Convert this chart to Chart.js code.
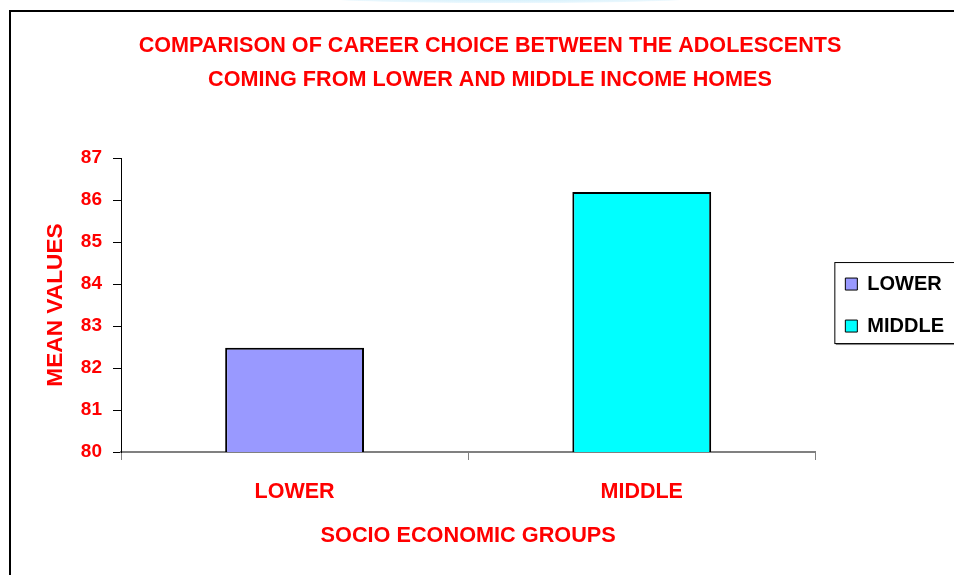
<!DOCTYPE html>
<html>
<head>
<meta charset="utf-8">
<script src="https://cdn.jsdelivr.net/npm/chart.js@4.4.1/dist/chart.umd.min.js"></script>
<style>
    html, body { margin: 0; padding: 0; background: #fff; overflow: hidden; }
    #marco { position: absolute; left: 9px; top: 10px; width: 1000px; height: 620px; border: 2px solid #000; }
    #brillo { position: absolute; left: 330px; top: -6px; width: 360px; height: 9px; border-radius: 50%;
              background: radial-gradient(ellipse at center, #cdeefc 0%, #e6f6fd 60%, rgba(255,255,255,0) 100%); }
    #contenedor { position: absolute; left: 0; top: 0; width: 954px; height: 575px; }
</style>
</head>
<body>
<div id="brillo"></div>
<div id="marco"></div>
<div id="contenedor"><canvas id="grafico"></canvas></div>
<script>
// Datos del grafico
const categorias = ['LOWER', 'MIDDLE'];
const valoresMedios = [82.48, 86.19];
const coloresBarras = ['#9999FF', '#00FFFF'];
const titulo = ['COMPARISON OF CAREER CHOICE BETWEEN THE ADOLESCENTS', 'COMING FROM LOWER AND MIDDLE INCOME HOMES'];
const tituloEjeX = 'SOCIO ECONOMIC GROUPS';
const tituloEjeY = 'MEAN VALUES';
const rojo = '#FF0000';

Chart.defaults.font.family = "'Liberation Sans', Arial, sans-serif";
Chart.defaults.font.weight = 'bold';

// Marco alrededor de la leyenda (como en Excel)
const marcoLeyenda = {
    id: 'marcoLeyenda',
    afterDraw(chart) {
        const cajas = chart.legend && chart.legend.legendHitBoxes;
        if (!cajas || !cajas.length) return;
        const primera = cajas[0];
        const ultima = cajas[cajas.length - 1];
        const ctx = chart.ctx;
        const x = primera.left - 10.5;
        const y = primera.top - 11.5;
        const alto = (ultima.top + ultima.height + 8) - (primera.top - 11);
        ctx.save();
        ctx.strokeStyle = '#000';
        ctx.lineWidth = 1;
        ctx.strokeRect(x, y, 300, alto);
        ctx.strokeStyle = '#808080';
        ctx.beginPath();
        ctx.moveTo(x + 1, y + alto + 1);
        ctx.lineTo(x + 300, y + alto + 1);
        ctx.stroke();
        ctx.restore();
    }
};

const ctx = document.getElementById('grafico').getContext('2d');
new Chart(ctx, {
    type: 'bar',
    data: {
        labels: categorias,
        datasets: [{
            label: 'MEAN VALUES',
            data: valoresMedios,
            backgroundColor: coloresBarras,
            borderColor: '#000',
            borderWidth: 2,
            borderSkipped: false,
            barPercentage: 0.4,
            categoryPercentage: 1
        }]
    },
    options: {
        responsive: true,
        maintainAspectRatio: false,
        animation: false,
        layout: { padding: { left: 26, right: 0, top: 0, bottom: 0 } },
        plugins: {
            title: {
                display: true,
                text: titulo,
                color: rojo,
                font: { size: 21.6, weight: 'bold', lineHeight: 1.53 },
                padding: { top: 30, bottom: 62 }
            },
            legend: {
                position: 'right',
                fullSize: false,
                labels: {
                    color: '#000',
                    font: { size: 20, weight: 'bold' },
                    boxWidth: 12,
                    boxHeight: 12,
                    padding: 22,
                    generateLabels: (chart) => chart.data.labels.map((etiqueta, i) => ({
                        text: etiqueta,
                        fillStyle: coloresBarras[i],
                        strokeStyle: '#000',
                        lineWidth: 1,
                        hidden: false,
                        index: i
                    }))
                },
                onClick: () => {}
            },
            tooltip: { enabled: false }
        },
        scales: {
            x: {
                afterFit: (escala) => { escala.height = 123; },
                border: { color: '#808080', width: 2 },
                grid: { offset: true, drawOnChartArea: false, drawTicks: true, tickLength: 8, color: '#808080' },
                ticks: { color: rojo, font: { size: 21.5, weight: 'bold' }, padding: 19 },
                title: { display: true, text: tituloEjeX, color: rojo, font: { size: 21.7, weight: 'bold' }, padding: { top: 0, bottom: 26 } }
            },
            y: {
                min: 80,
                max: 87,
                afterFit: (escala) => { escala.width = 95; },
                border: { color: '#000', width: 1 },
                grid: { drawOnChartArea: false, drawTicks: true, tickLength: 8, color: '#000' },
                ticks: { stepSize: 1, color: rojo, font: { size: 19, weight: 'bold' }, padding: 11 },
                title: { display: true, text: tituloEjeY, color: rojo, font: { size: 22.7, weight: 'bold' }, padding: { top: 16, bottom: 0 } }
            },
            // eje vacio a la derecha: solo deja el hueco entre el area del grafico y la leyenda
            separador: {
                type: 'linear',
                position: 'right',
                display: true,
                afterFit: (escala) => { escala.width = 8; },
                border: { display: false },
                grid: { display: false },
                ticks: { display: false }
            }
        }
    },
    plugins: [marcoLeyenda]
});
</script>
</body>
</html>
